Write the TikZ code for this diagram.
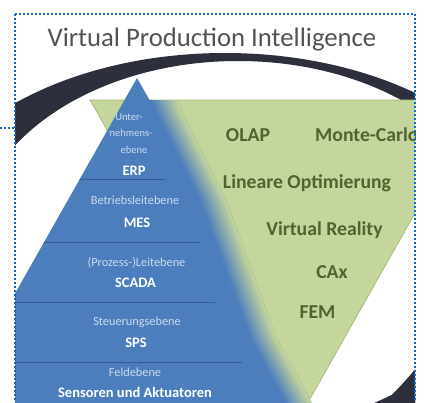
\documentclass[tikz,border=0pt]{standalone}
\usepackage{fontspec}
\setmainfont{Carlito}
\definecolor{vpblue}{RGB}{76,126,190}
\definecolor{vpgreen}{RGB}{196,214,155}
\definecolor{vpgreenline}{RGB}{165,185,115}
\definecolor{vptext}{RGB}{82,98,50}
\definecolor{vpring}{RGB}{45,47,60}
\definecolor{vptitle}{RGB}{82,82,82}
\definecolor{vpdot}{RGB}{20,105,200}
\definecolor{vpsep}{RGB}{52,92,150}
\tikzset{
  dotline/.style={vpdot, line width=1.7pt, dash pattern=on 1.7pt off 2.3pt},
  greenlbl/.style={text=vptext, font=\fontsize{19.7}{22}\selectfont\bfseries, inner sep=0pt},
  toplbl/.style={text=white!72!vpblue, font=\fontsize{10.5}{12}\selectfont, inner sep=0pt},
  smalllbl/.style={text=white!72!vpblue, font=\fontsize{12.3}{14}\selectfont, inner sep=0pt},
  boldlbl/.style={text=white, font=\fontsize{14.5}{16}\selectfont\bfseries, inner sep=0pt},
  seprule/.style={vpsep, line width=0.9pt}
}
\begin{document}
\begin{tikzpicture}[x=1pt,y=-1pt]
\useasboundingbox (0,0) rectangle (425,402);
\begin{scope}
  \clip (15,14) rectangle (415,402);
  % ring
  \fill[vpring, even odd rule] (225,250) ellipse [x radius=315, y radius=197]
                               (238,245) ellipse [x radius=265, y radius=184];
  \fill[vpring] (380,406) .. controls (395,392) and (407,380) .. (419,364) -- (419,406) -- cycle;
  % green inverted triangle
  \filldraw[fill=vpgreen, draw=vpgreenline, line width=0.7pt]
     (90,100) -- (479,100) -- (284.5,444) -- cycle;
  % blue pyramid with fade
  \begin{scope}
    \clip (137,78) -- (149.5,100) -- (600,100) -- (600,450) -- (-73.6,450) -- cycle;
    \fill[vpblue] (-100,50) -- (140.5,60) -- (155.5,110) -- (200.5,200) -- (250.5,337)
                  -- (285.5,402) -- (310.5,450) -- (-100,450) -- cycle;
    \foreach \k in {0,...,12}{
      \pgfmathsetmacro{\a}{2*\k}
      \pgfmathsetmacro{\p}{100-(\k+0.5)*100/13}
      \fill[vpblue!\p!vpgreen]
        (140+\a,60) -- (155+\a,110) -- (200+\a,200) -- (250+\a,337) -- (285+\a,402) -- (310+\a,450)
        -- (336,450) -- (311,402) -- (276,337) -- (226,200) -- (181,110) -- (166,60) -- cycle;
    }
    \draw[seprule] (-50,179) -- (165,179);
    \draw[seprule] (-50,242) -- (200,242);
    \draw[seprule] (-50,302) -- (215,302);
    \draw[seprule] (-50,362) -- (242,362);
  \end{scope}
  % title
  \node[text=vptitle, font=\fontsize{26.7}{30}\selectfont, inner sep=0pt] (title) at (212,40) {Virtual Production Intelligence};
  % green labels
  \node[greenlbl] (olap) at (248,135) {OLAP};
  \node[greenlbl, anchor=west] (monte) at (315,135) {Monte-Carlo};
  \node[greenlbl] (linopt) at (307,183) {Lineare Optimierung};
  \node[greenlbl] (vr) at (324.5,230) {Virtual Reality};
  \node[greenlbl] (cax) at (332,272) {CAx};
  \node[greenlbl] (fem) at (317.5,312) {FEM};
  % pyramid labels
  \node[toplbl] (u1) at (129,117) {Unter-};
  \node[toplbl] (u2) at (131,133) {nehmens-};
  \node[toplbl] (u3) at (134,150) {ebene};
  \node[boldlbl] (erp) at (134,171) {ERP};
  \node[smalllbl] (betr) at (135,200) {Betriebsleitebene};
  \node[boldlbl] (mes) at (137,223) {MES};
  \node[smalllbl] (proz) at (136.5,263) {(Prozess-)Leitebene};
  \node[boldlbl] (scada) at (135.5,283) {SCADA};
  \node[smalllbl] (steu) at (137,322) {Steuerungsebene};
  \node[boldlbl] (sps) at (136,343) {SPS};
  \node[smalllbl] (feld) at (135,372) {Feldebene};
  \node[boldlbl] (sens) at (135,392.5) {Sensoren und Aktuatoren};
\end{scope}
% dotted frame
\coordinate (tl) at (15,14);
\coordinate (tr) at (415,14);
\coordinate (bl) at (15,402);
\coordinate (br) at (415,402);
\coordinate (sl) at (0,128);
\coordinate (sr) at (15,128);
\draw[dotline] (tl) -- (tr);
\draw[dotline] (tl) -- (bl);
\draw[dotline] (tr) -- (br);
\draw[dotline] (sl) -- (sr);
\end{tikzpicture}
\end{document}
